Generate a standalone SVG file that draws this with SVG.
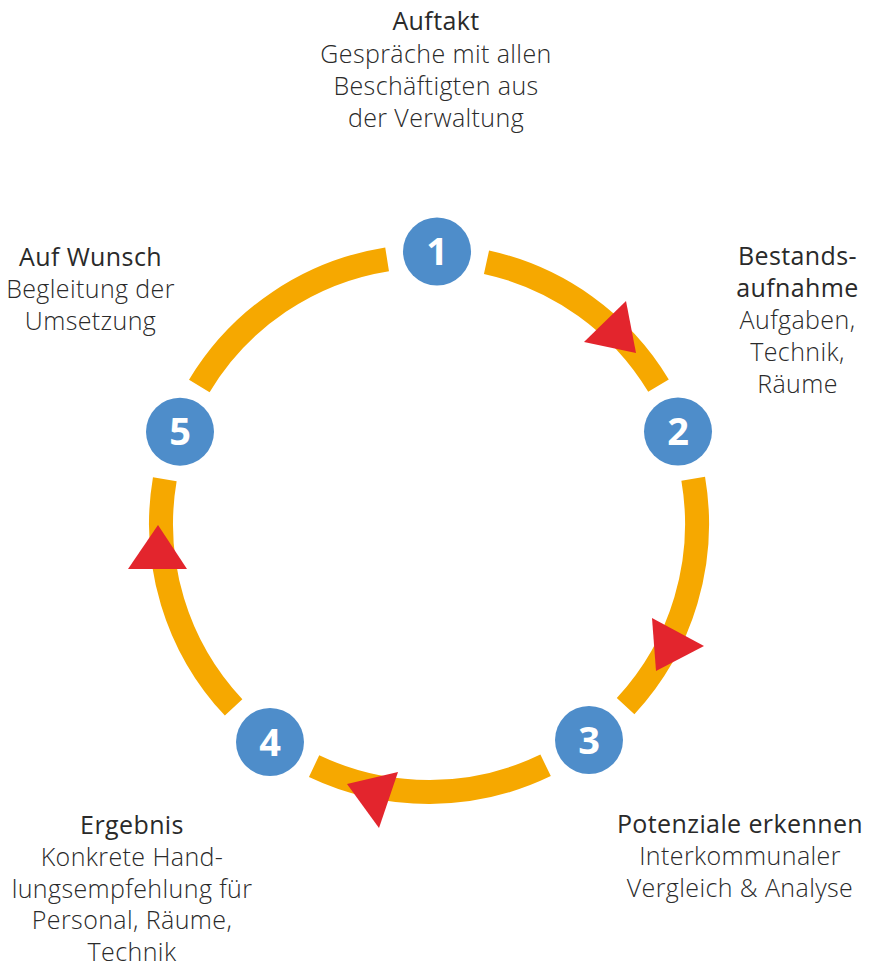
<svg xmlns="http://www.w3.org/2000/svg" width="870" height="967" viewBox="0 0 870 967">
<style>
.ring{fill:none;stroke:#F6A800;stroke-width:24;stroke-linecap:butt}
.arrow{fill:#E3252D}
.dot{fill:#4E8DCA}
.num{font-family:"Open Sans","Noto Sans","Liberation Sans",sans-serif;font-weight:700;font-size:38px;fill:#ffffff;text-anchor:middle}
.title{font-family:"Open Sans","Noto Sans","Liberation Sans",sans-serif;font-weight:500;font-size:25px;letter-spacing:0.4px;fill:#2a2a2a;text-anchor:middle}
.body{font-family:"Open Sans","Noto Sans","Liberation Sans",sans-serif;font-weight:300;font-size:25px;letter-spacing:0.4px;fill:#2a2a2a;text-anchor:middle}
</style>
<rect width="870" height="967" fill="#ffffff"/>
<g id="connectors">
<path class="ring" d="M 486.5 262.2 A 268 268 0 0 1 658.5 385.6"/>
<path class="ring" d="M 693.2 478.8 A 268 268 0 0 1 625.6 706.1"/>
<path class="ring" d="M 545.6 765.3 A 268 268 0 0 1 314.1 766.1"/>
<path class="ring" d="M 233.6 707.4 A 268 268 0 0 1 164.8 479.3"/>
<path class="ring" d="M 199.3 386.0 A 268 268 0 0 1 387.1 259.3"/>
<polygon class="arrow" points="584,342 626,301 636,353"/>
<polygon class="arrow" points="652,618 704,646 656,671"/>
<polygon class="arrow" points="398,772 379,828 347,784"/>
<polygon class="arrow" points="158,525 187,569 128,569"/>
</g>
<g id="node1">
<circle class="dot" cx="437" cy="251.5" r="34"/>
<text class="num" x="437" y="265">1</text>
<text class="title" x="436" y="30">Auftakt</text>
<text class="body" x="436" y="62.5">Gespräche mit allen</text>
<text class="body" x="436" y="95">Beschäftigten aus</text>
<text class="body" x="436" y="127">der Verwaltung</text>
</g>
<g id="node2">
<circle class="dot" cx="678" cy="431.5" r="34"/>
<text class="num" x="678" y="445">2</text>
<text class="title" x="797.5" y="265">Bestands-</text>
<text class="title" x="797.5" y="297">aufnahme</text>
<text class="body" x="797.5" y="329">Aufgaben,</text>
<text class="body" x="797.5" y="361">Technik,</text>
<text class="body" x="797.5" y="393">Räume</text>
</g>
<g id="node3">
<circle class="dot" cx="589" cy="740" r="34"/>
<text class="num" x="589" y="753.5">3</text>
<text class="title" x="740" y="833">Potenziale erkennen</text>
<text class="body" x="740" y="865">Interkommunaler</text>
<text class="body" x="740" y="897">Vergleich &amp; Analyse</text>
</g>
<g id="node4">
<circle class="dot" cx="270" cy="742" r="34"/>
<text class="num" x="270" y="755.5">4</text>
<text class="title" x="132" y="834">Ergebnis</text>
<text class="body" x="132" y="866">Konkrete Hand-</text>
<text class="body" x="132" y="898">lungsempfehlung für</text>
<text class="body" x="132" y="929">Personal, Räume,</text>
<text class="body" x="132" y="961">Technik</text>
</g>
<g id="node5">
<circle class="dot" cx="180" cy="431.7" r="34"/>
<text class="num" x="180" y="445">5</text>
<text class="title" x="90.5" y="266">Auf Wunsch</text>
<text class="body" x="90.5" y="298">Begleitung der</text>
<text class="body" x="90.5" y="330">Umsetzung</text>
</g>
</svg>
